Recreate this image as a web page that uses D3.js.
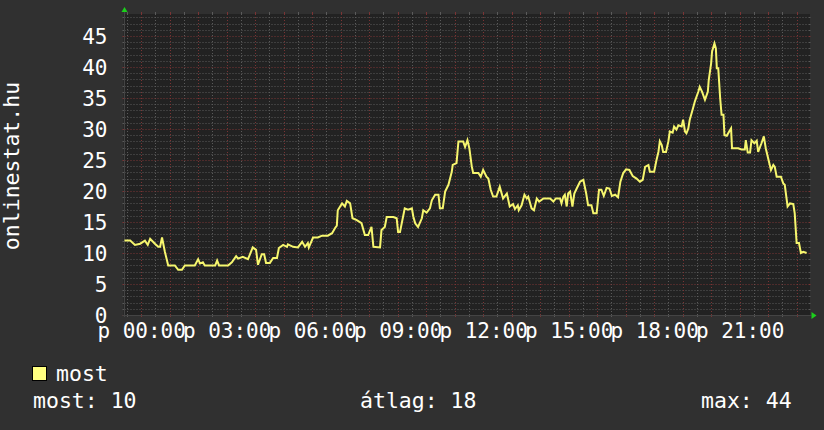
<!DOCTYPE html>
<html>
<head>
<meta charset="utf-8">
<script src="https://cdn.jsdelivr.net/npm/d3@7"></script>
<style>
  body { margin: 0; background: #303030; }
  text { font-family: "DejaVu Sans Mono", monospace; fill: #fff; }
</style>
</head>
<body>
<svg class="chart"></svg>
<script>
let width = 824, height = 430;
let plot = { left: 124.5, right: 808.5, top: 14, bottom: 315 };

// minutes after the graph start (23:25) and users online
let mins = [0,12,22,33,43,49,54,64,71,75,79,85,92,106,113,121,127,148,155,159,
  165,169,191,195,199,218,226,235,239,249,260,270,277,281,289,294,298,306,313,321,
  325,334,342,344,355,365,374,380,386,388,397,407,416,428,437,443,447,449,458,464,
  468,475,480,489,499,506,513,520,524,538,541,548,552,566,573,576,580,590,597,605,
  608,612,618,626,629,636,643,647,654,661,664,670,675,682,689,691,699,703,713,717,
  722,726,731,734,745,750,755,762,766,771,776,783,790,797,805,811,818,822,828,830,
  836,842,847,850,857,862,868,873,882,896,903,908,917,920,924,927,931,934,938,943,
  947,952,959,966,972,976,983,987,994,999,1004,1009,1015,1021,1026,1033,1039,1044,1050,1056,
  1063,1070,1078,1085,1091,1096,1103,1106,1115,1120,1124,1127,1131,1134,1140,1145,1148,1154,1157,1162,
  1166,1173,1176,1180,1183,1187,1190,1196,1201,1208,1211,1216,1222,1228,1230,1235,1237,1242,1245,1247,
  1250,1254,1257,1261,1263,1268,1273,1277,1279,1292,1299,1306,1308,1312,1317,1320,1326,1331,1334,1338,
  1341,1346,1350,1355,1361,1366,1369,1373,1382,1387,1390,1396,1401,1408,1411,1415,1420,1424,1429,1436];
let users = [12,12,11.3,11.5,12,11.3,12.3,11.5,11,11,12.5,10.2,8,8,7.3,7.3,8,8,9,8.3,
  8.5,8,8,8.8,8,8,8.5,9.5,9.1,9.4,9.0,10.9,10.5,8.1,9.8,9.8,8.4,8.4,9.2,9.2,
  10.8,11.3,11,11.4,11,10.9,11.8,11,11.6,10.9,12.5,12.5,12.8,12.8,13.2,14,14.4,16.9,18,17.5,
  18.4,18,15.6,15.3,14.8,12.9,12.9,14.2,11,10.9,13.7,14.2,15.8,15.8,15.6,13.4,13.4,17.2,17.0,17.2,
  15.9,14.8,14.2,15.6,16.9,16.5,17.2,18.5,19.4,19.4,17.2,17.2,19.9,21,23.1,24.2,24.5,28,28,27.1,
  28.2,26.9,24,22.9,22.9,22.3,23.4,22.3,22,20.2,19.1,19.1,20.7,18.8,19.6,17.5,17.9,17.1,17.7,16.9,
  17.7,19.4,18.8,19.1,17.2,16.9,18.8,18.3,18.8,18.8,18.3,18.8,18.8,18,19.1,19.4,17.5,19.6,19.9,17.5,
  19.6,20.4,21.5,21.8,19.6,17.7,17.7,16.4,16.4,20.2,20.2,19.2,20.5,20.4,19.2,19.4,19,21.5,22.9,23.5,
  23.4,22.4,22,21.5,21.8,23.9,24.2,23.1,23.1,25,26.3,28,27.4,26.3,26.3,28,29.6,29.4,30.4,29.9,
  30.6,30.4,31.5,29.6,29.3,30.1,31.5,33.1,34.5,36,36.8,36,34.7,36,37.9,40.6,42.5,43.8,43,39.8,
  39.8,35,32.3,32.3,29,28.9,29.6,30.1,26.9,26.9,26.7,26.7,28.2,26.2,26.2,28.2,27.7,28.1,26.3,27.1,
  27.7,28.8,26.9,25.3,23.4,24.2,23.9,22.3,22.3,21.2,21,17.5,18,17.9,16.4,11.6,11.6,10,10.2,10];

let yTicks = [0, 5, 10, 15, 20, 25, 30, 35, 40, 45];
let yTitle = "onlinestat.hu";
let seriesName = "most";
let summary = [["most: 10", 33], ["átlag: 18", 360], ["max: 44", 701]];

let start = new Date(2000, 0, 6, 23, 25);
let end = d3.timeMinute.offset(start, 1440);
let data = d3.zip(mins, users).map(d => ({ t: d3.timeMinute.offset(start, d[0]), v: d[1] }));

let x = d3.scaleTime().domain([start, end]).range([plot.left, plot.right]);
let y = d3.scaleLinear().domain([0, 48.55]).range([plot.bottom, plot.top]);

let svg = d3.select(".chart").attr("width", width).attr("height", height);

// canvas
svg.append("rect")
  .attr("x", plot.left - 1).attr("y", plot.top)
  .attr("width", plot.right - plot.left + 2.5).attr("height", plot.bottom - plot.top)
  .attr("fill", "#222222");

// grid lines
let minorY = d3.range(1, 49).filter(v => v % 5 != 0);
let majorY = d3.range(0, 49, 5);
let minorX = d3.timeMinute.every(30).range(start, end).filter(d => d.getMinutes() == 30);
let majorX = d3.timeHour.every(1).range(start, end);

function hLines(vals, color) {
  let g = svg.append("g");
  g.selectAll(".grid").data(vals).enter().append("line")
    .attr("x1", plot.left).attr("x2", plot.right)
    .attr("y1", d => Math.round(y(d)) + 0.5).attr("y2", d => Math.round(y(d)) + 0.5)
    .attr("stroke", color).attr("stroke-dasharray", "1,2");
  g.selectAll(".tick").data(vals).enter().append("path")
    .attr("d", d => {
      let yy = Math.round(y(d)) + 0.5;
      return "M" + (plot.left - 2) + "," + yy + "h2M" + plot.right + "," + yy + "h2";
    })
    .attr("stroke", color);
}
function vLines(vals, color) {
  let g = svg.append("g");
  g.selectAll(".grid").data(vals).enter().append("line")
    .attr("x1", d => Math.round(x(d)) + 0.5).attr("x2", d => Math.round(x(d)) + 0.5)
    .attr("y1", plot.top).attr("y2", plot.bottom)
    .attr("stroke", color).attr("stroke-dasharray", "1,2");
  g.selectAll(".tick").data(vals).enter().append("path")
    .attr("d", d => {
      let xx = Math.round(x(d)) + 0.5;
      return "M" + xx + "," + (plot.top - 2) + "v2M" + xx + "," + plot.bottom + "v2";
    })
    .attr("stroke", color);
}
hLines(minorY, "#5a5a5a");
vLines(minorX, "#5a5a5a");
hLines(majorY, "#7a3434");
vLines(majorX, "#7a3434");

// axes
let yAxis = svg.append("g")
  .attr("transform", "translate(" + plot.left + ",0)")
  .call(d3.axisLeft(y).tickValues(yTicks).tickSize(0).tickPadding(17));
yAxis.select(".domain").remove();
yAxis.selectAll("text").attr("font-size", 21).attr("dy", "0.36em").style("fill", "#fff");

let xAxis = svg.append("g")
  .attr("transform", "translate(0," + plot.bottom + ")")
  .call(d3.axisBottom(x).ticks(d3.timeHour.every(3)).tickSize(0).tickPadding(8)
    .tickFormat(d => "p " + d3.timeFormat("%H:%M")(d)));
xAxis.select(".domain").remove();
xAxis.selectAll("text").attr("font-size", 21).style("fill", "#fff");

// axis lines and arrows
svg.append("line")
  .attr("x1", plot.left).attr("x2", plot.left)
  .attr("y1", plot.top - 2).attr("y2", plot.bottom + 2)
  .attr("stroke", "#444");
svg.append("line")
  .attr("x1", plot.left - 2).attr("x2", plot.right + 3)
  .attr("y1", plot.bottom + 0.5).attr("y2", plot.bottom + 0.5)
  .attr("stroke", "#444");
svg.append("path")
  .attr("d", "M" + (plot.left - 3) + "," + (plot.top - 2) + "L" + plot.left + "," + (plot.top - 7) + "L" + (plot.left + 3) + "," + (plot.top - 2) + "Z")
  .attr("fill", "#1ccf1c");
svg.append("path")
  .attr("d", "M" + (plot.right + 3) + "," + (plot.bottom - 3) + "L" + (plot.right + 8) + "," + (plot.bottom + 0.5) + "L" + (plot.right + 3) + "," + (plot.bottom + 4) + "Z")
  .attr("fill", "#1ccf1c");

// the series
let line = d3.line().x(d => x(d.t)).y(d => y(d.v));
svg.append("path")
  .datum(data)
  .attr("d", line)
  .attr("fill", "none")
  .attr("stroke", "#f6f66e")
  .attr("stroke-width", 2)
  .attr("stroke-linejoin", "miter");

// y title
svg.append("text")
  .attr("transform", "translate(19," + 166 + ") rotate(-90)")
  .attr("text-anchor", "middle")
  .attr("font-size", 21.5)
  .text(yTitle);

// legend
svg.append("rect")
  .attr("x", 32.5).attr("y", 366.5).attr("width", 14).attr("height", 14)
  .attr("fill", "#ffff80").attr("stroke", "#000");
svg.append("text")
  .attr("x", 56).attr("y", 381)
  .attr("font-size", 21.5)
  .text(seriesName);

svg.selectAll(".summary").data(summary).enter().append("text")
  .attr("x", d => d[1]).attr("y", 408)
  .attr("font-size", 21.5)
  .text(d => d[0]);
</script>
</body>
</html>
